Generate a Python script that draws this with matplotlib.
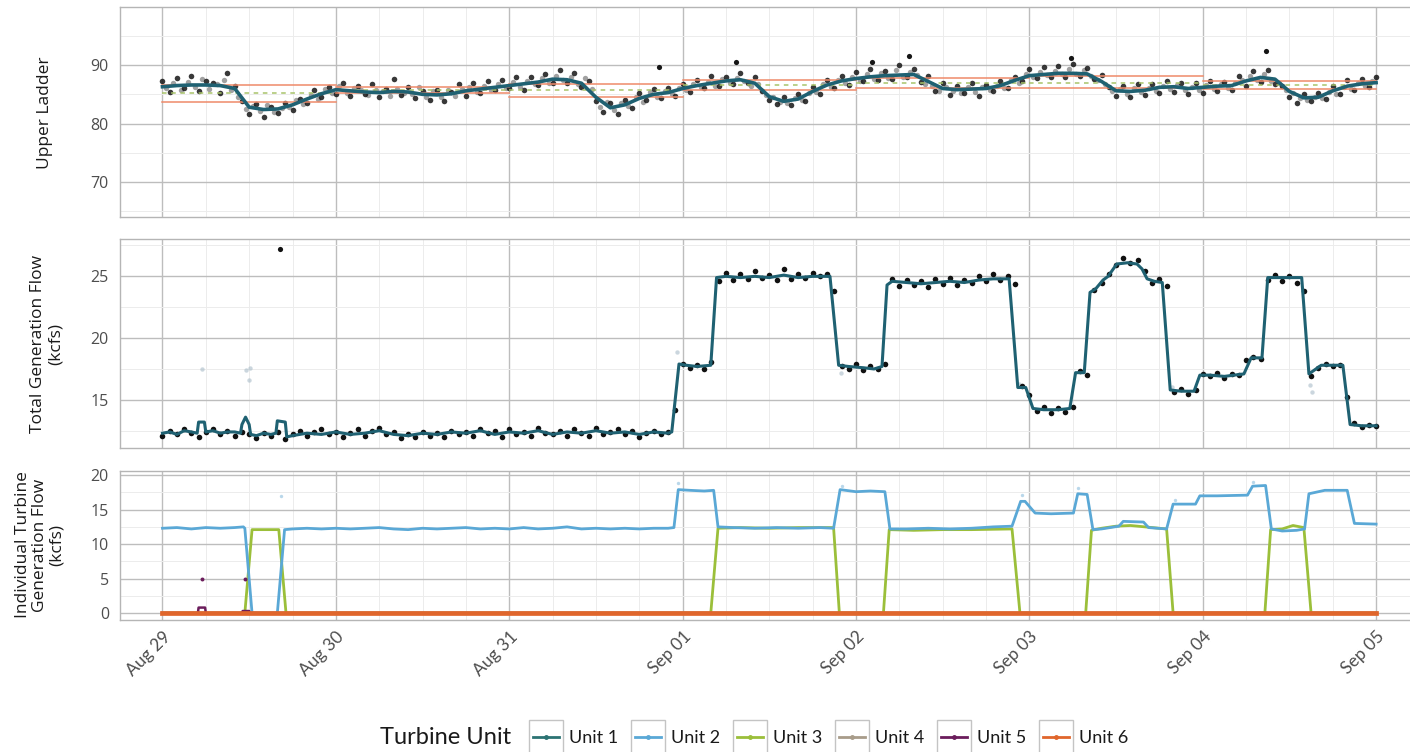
import matplotlib
matplotlib.use('Agg')
import matplotlib.pyplot as plt
import matplotlib.dates as mdates
from matplotlib.patches import Rectangle
import numpy as np
import datetime as dt

# ----- data (hours from Aug 29 00:00) -----
units = ['Unit 1', 'Unit 2', 'Unit 3', 'Unit 4', 'Unit 5', 'Unit 6']
unit_colors = ['#2c7373', '#5aa8d6', '#9bbf3a', '#a89c8a', '#6b1d5c', '#e0662c']

ladder_hours = list(range(0, 169, 2))
ladder_line = [86.3, 86.5, 86.6, 86.6, 86.5, 86.0, 82.8, 82.4, 82.5, 83.2, 84.2, 85.1, 85.8, 85.6, 85.4,
               85.3, 85.5, 85.4, 85.0, 84.9, 85.1, 85.6, 85.9, 86.2, 86.5, 86.8, 87.1, 87.6, 87.5, 86.9,
               84.5, 82.7, 83.2, 84.3, 85.0, 85.3, 86.0, 86.5, 86.9, 87.3, 87.5, 86.9, 84.6, 83.8, 84.2,
               85.5, 86.6, 87.3, 87.7, 88.0, 88.2, 88.3, 88.4, 87.2, 86.0, 85.8, 85.9, 86.0, 86.5, 87.4,
               88.2, 88.4, 88.6, 88.6, 88.5, 87.2, 85.6, 85.5, 85.7, 86.2, 86.3, 86.0, 86.2, 86.4, 86.5,
               87.3, 87.9, 87.6, 85.5, 84.4, 84.5, 85.6, 86.4, 86.8, 87.0]

# dark points, on the hour
ladder_pts_a = [87.2, 85.4, 87.8, 86.0, 88.1, 85.6, 87.3, 86.9, 85.2, 88.6, 86.4, 83.9, 81.6, 83.4, 81.2,
                82.9, 81.8, 83.6, 82.4, 84.2, 83.5, 85.7, 84.6, 86.3, 85.1, 86.9, 84.8, 86.4, 85.0, 86.8,
                84.6, 85.9, 87.6, 84.9, 86.2, 84.3, 85.6, 84.1, 85.8, 83.9, 85.4, 86.7, 84.8, 86.9, 85.3,
                87.2, 85.7, 87.4, 86.1, 87.9, 85.8, 88.0, 86.6, 88.4, 86.9, 89.1, 87.0, 88.6, 86.3, 87.2,
                83.8, 82.0, 83.5, 81.7, 84.1, 82.6, 85.2, 84.0, 85.9, 84.4, 86.1, 84.8, 86.7, 85.4, 87.4,
                86.0, 88.2, 86.5, 88.0, 86.8, 88.6, 87.0, 87.9, 85.6, 84.0, 83.4, 84.6, 83.1, 85.0, 83.9,
                86.2, 85.1, 87.4, 86.0, 88.1, 86.6, 88.9, 87.2, 89.3, 87.5, 89.0, 87.7, 90.1, 87.9, 89.4,
                87.1, 88.2, 85.6, 86.9, 84.9, 86.5, 85.2, 87.0, 84.8, 86.6, 85.5, 87.3, 86.1, 88.0, 87.2,
                89.4, 87.8, 89.7, 88.0, 89.9, 87.9, 90.2, 88.1, 89.5, 87.6, 88.3, 86.2, 84.8, 86.4, 84.6,
                86.7, 84.9, 86.8, 85.3, 87.2, 85.4, 87.0, 85.1, 86.9, 85.2, 87.3, 85.5, 87.1, 85.8, 88.2,
                86.5, 89.0, 87.1, 89.2, 86.8, 86.5, 84.6, 83.5, 85.0, 83.8, 85.3, 84.2, 86.5, 85.0, 87.4,
                85.8, 87.6, 86.2, 87.9]
# grey points, on the half hour
ladder_pts_b = [86.0, 86.9, 85.8, 87.1, 86.3, 87.6, 85.9, 86.8, 87.4, 85.7, 84.6, 82.5, 83.0, 82.2, 83.1,
                82.0, 82.7, 82.9, 84.0, 83.3, 84.9, 84.2, 85.9, 85.2, 86.4, 85.3, 86.1, 85.7, 84.9, 85.8,
                85.6, 84.7, 85.9, 85.2, 85.0, 86.3, 84.5, 85.5, 84.6, 85.7, 84.7, 85.9, 86.2, 85.4, 86.5,
                85.8, 86.8, 86.0, 87.1, 86.3, 87.3, 86.7, 87.8, 87.0, 88.2, 87.4, 88.0, 86.7, 87.8, 85.9,
                82.9, 83.7, 82.3, 83.6, 83.0, 84.5, 83.7, 85.4, 84.6, 85.6, 85.0, 86.0, 85.7, 86.8, 86.2,
                87.1, 86.5, 87.6, 87.0, 87.8, 87.2, 86.4, 86.8, 84.9, 84.5, 83.7, 83.6, 84.3, 84.0, 85.3,
                85.4, 86.7, 86.2, 87.5, 86.9, 87.9, 87.3, 88.4, 87.6, 88.7, 87.8, 89.1, 88.0, 88.9, 88.3,
                86.8, 86.5, 85.5, 86.2, 85.6, 85.2, 86.3, 85.4, 86.2, 85.8, 86.4, 86.1, 87.5, 86.9, 88.4,
                88.0, 88.9, 88.3, 89.0, 88.4, 89.3, 88.5, 89.1, 88.2, 87.4, 86.8, 85.5, 85.9, 85.1, 86.0,
                85.4, 86.1, 85.6, 86.4, 85.9, 86.6, 85.7, 86.3, 85.8, 86.6, 85.9, 86.8, 86.0, 87.0, 87.4,
                88.1, 87.5, 88.4, 87.3, 87.0, 85.7, 85.2, 84.3, 84.0, 84.6, 84.3, 85.4, 85.1, 86.2, 85.9,
                86.9, 86.4, 87.2]
ladder_out_h = [68.8, 79.4, 98.2, 103.3, 125.8, 152.7]
ladder_out_v = [89.7, 90.6, 90.6, 91.6, 91.2, 92.4]

# daily criteria lines
crit_days = [0, 1, 2, 3, 4, 5, 6]
crit_upper = [86.6, 86.3, 86.8, 87.4, 87.8, 88.1, 87.3]
crit_lower = [83.7, 85.2, 84.6, 85.8, 86.0, 86.0, 85.9]
crit_mid = [85.2, 85.8, 85.7, 86.6, 86.9, 87.0, 86.6]

total_hours = [0, 1, 2, 3, 4, 4.8, 5.0, 5.8, 6.0, 7, 8, 9, 10, 10.8, 11.0, 11.5, 12.0, 12.2, 13, 14, 15, 15.7,
               15.9, 17.0, 17.2, 18, 20, 22, 24, 26, 28, 30, 32, 34, 36, 38, 40, 42, 44, 46, 48, 50, 52, 54,
               56, 58, 60, 62, 64, 66, 68, 70, 70.5, 71.5, 72.5, 74, 75.9, 76.7, 78, 80, 82, 84, 86, 88, 90,
               92.4, 93.6, 95, 97, 98.5, 99.6, 100.3, 101, 103, 105, 107, 109, 111, 113, 115, 117.2, 118.4,
               119.5, 120.5, 122, 124, 125.6, 126.4, 127.6, 128.4, 129.2, 130.2, 130.9, 132.1, 133.6, 134.9,
               135.6, 136.3, 137.3, 138.4, 139.5, 141, 142.8, 143.6, 145, 147, 149.7, 150.7, 152.2, 153.0,
               155, 157.7, 158.7, 160.4, 162, 163.4, 164.4, 166, 168]
total_line = [12.3, 12.4, 12.2, 12.5, 12.4, 12.3, 13.2, 13.2, 12.4, 12.5, 12.3, 12.4, 12.4, 12.3, 13.0, 13.6,
              13.0, 12.2, 12.1, 12.3, 12.2, 12.3, 13.3, 13.2, 12.0, 12.1, 12.3, 12.2, 12.4, 12.2, 12.3, 12.5,
              12.2, 12.1, 12.3, 12.2, 12.4, 12.3, 12.5, 12.2, 12.4, 12.3, 12.5, 12.2, 12.4, 12.3, 12.5, 12.3,
              12.4, 12.2, 12.4, 12.3, 12.4, 17.9, 17.8, 17.7, 17.8, 24.9, 25.0, 24.9, 25.0, 24.9, 25.1, 24.9,
              25.0, 25.0, 17.8, 17.7, 17.6, 17.5, 17.7, 24.3, 24.6, 24.5, 24.4, 24.5, 24.6, 24.5, 24.7, 24.8,
              24.8, 16.0, 16.0, 14.3, 14.2, 14.2, 14.3, 17.2, 17.2, 23.7, 24.0, 24.7, 25.0, 26.0, 26.1, 26.0,
              25.6, 24.8, 24.6, 24.5, 15.8, 15.7, 15.7, 17.0, 17.0, 16.9, 17.1, 18.4, 18.4, 24.9, 24.9, 24.9,
              17.1, 17.8, 17.8, 17.8, 13.0, 12.9, 12.9]
total_pts = [12.1, 12.5, 12.2, 12.6, 12.3, 12.0, 12.4, 12.6, 12.2, 12.5, 12.1, 12.4, 12.2, 11.9, 12.3, 12.1,
             12.4, 11.8, 12.2, 12.5, 12.1, 12.4, 12.6, 12.2, 12.4, 12.0, 12.3, 12.6, 12.1, 12.5, 12.7, 12.2,
             12.4, 11.9, 12.2, 12.0, 12.4, 12.1, 12.3, 12.0, 12.5, 12.2, 12.4, 12.1, 12.6, 12.3, 12.5, 12.0,
             12.6, 12.2, 12.4, 12.1, 12.7, 12.3, 12.2, 12.5, 12.1, 12.6, 12.3, 12.1, 12.7, 12.2, 12.4, 12.6,
             12.2, 12.5, 12.0, 12.3, 12.5, 12.2, 12.4, 14.2, 17.9, 17.6, 17.8, 17.5, 18.1, 24.6, 25.3, 24.7,
             25.2, 24.8, 25.4, 24.9, 25.1, 24.7, 25.6, 24.8, 25.2, 24.9, 25.3, 25.0, 25.2, 23.8, 17.7, 17.5,
             17.9, 17.4, 17.7, 17.5, 17.9, 24.8, 24.2, 24.7, 24.3, 24.6, 24.1, 24.8, 24.4, 24.9, 24.3, 24.7,
             24.5, 25.0, 24.6, 25.2, 24.7, 25.0, 24.4, 16.1, 15.4, 14.1, 14.4, 13.9, 14.3, 14.0, 14.4, 17.3,
             17.0, 23.9, 24.5, 25.2, 25.9, 26.5, 26.1, 26.3, 25.4, 24.5, 24.8, 24.2, 15.6, 15.9, 15.5, 15.8,
             17.1, 16.9, 17.2, 16.8, 17.1, 17.0, 18.2, 18.5, 18.3, 24.7, 25.1, 24.6, 25.0, 24.5, 23.8, 16.9,
             17.6, 17.9, 17.7, 17.8, 15.2, 13.1, 12.8, 13.0, 12.9]
total_faint_h = [5.5, 11.6, 12.1, 12.0, 71.2, 71.0, 93.9, 118.6, 139.8, 158.9, 159.1]
total_faint_v = [17.5, 17.4, 17.6, 16.6, 18.9, 14.2, 17.2, 16.3, 16.0, 16.2, 15.6]
total_out_h = [16.3]
total_out_v = [27.2]

u2_hours = [0, 2, 4, 6, 8, 10, 11.2, 11.4, 12.4, 15.9, 16.9, 18, 20, 22, 24, 26, 28, 30, 32, 34, 36, 38, 40,
            42, 44, 46, 48, 50, 52, 54, 56, 58, 60, 62, 64, 66, 68, 70, 70.8, 71.4, 73, 75, 76.3, 76.9, 79,
            82, 85, 88, 91, 92.9, 93.8, 96, 98, 100, 100.7, 103, 106, 109, 112, 115, 117.6, 118.8, 119.4,
            120.8, 123, 126.1, 126.7, 128, 128.8, 130, 132.4, 133, 135.8, 136.5, 139, 139.9, 143, 143.6,
            146, 150.2, 150.9, 152.7, 153.5, 155, 157, 158.1, 158.7, 160.9, 164, 165, 168]
u2_flow = [12.3, 12.4, 12.2, 12.4, 12.3, 12.4, 12.5, 12.3, 0, 0, 12.1, 12.2, 12.3, 12.2, 12.3, 12.2, 12.3,
           12.4, 12.2, 12.1, 12.3, 12.2, 12.3, 12.4, 12.2, 12.3, 12.2, 12.4, 12.2, 12.3, 12.5, 12.2, 12.3,
           12.2, 12.3, 12.2, 12.3, 12.3, 12.4, 17.9, 17.8, 17.7, 17.8, 12.5, 12.4, 12.3, 12.4, 12.3, 12.4,
           12.3, 17.9, 17.6, 17.7, 17.6, 12.2, 12.2, 12.3, 12.2, 12.3, 12.5, 12.6, 16.2, 16.2, 14.5, 14.4,
           14.5, 17.3, 17.2, 12.1, 12.2, 12.6, 13.3, 13.2, 12.4, 12.2, 15.8, 15.8, 17.0, 17.0, 17.1, 18.4,
           18.5, 12.2, 11.9, 12.0, 12.2, 17.3, 17.8, 17.8, 13.0, 12.9]
u2_faint_h = [16.4, 71.3, 94.0, 119.0, 126.8, 140.1, 150.9]
u2_faint_v = [17.0, 18.8, 18.4, 17.1, 18.2, 16.4, 19.0]

u3_hours = [0, 11.4, 12.4, 16.1, 17.1, 75.9, 76.9, 80, 84, 88, 92.9, 93.7, 99.8, 100.6, 104, 108, 112, 117.6,
            118.7, 127.8, 128.6, 130, 132, 134, 136, 138, 139.0, 139.9, 152.6, 153.4, 155, 156.5, 158, 159,
            168]
u3_flow = [0, 0, 12.1, 12.1, 0, 0, 12.3, 12.4, 12.3, 12.4, 12.4, 0, 0, 12.1, 12.0, 12.1, 12.1, 12.2, 0, 0,
           12.0, 12.3, 12.6, 12.7, 12.5, 12.3, 12.2, 0, 0, 12.1, 12.2, 12.7, 12.4, 0, 0]

u5_hours = [0, 4.9, 5.0, 5.9, 6.0, 11.0, 11.1, 12.0, 12.1, 168]
u5_flow = [0, 0, 0.8, 0.8, 0, 0, 0.3, 0.3, 0, 0]
u5_pts_h = [5.5, 11.4]
u5_pts_v = [5.0, 5.0]

zero_hours = [0, 168]
zero_flow = [0, 0]

# ----- helpers -----
base = mdates.date2num(dt.datetime(2019, 8, 29))


def tx(hours):
    return base + np.asarray(hours, dtype=float) / 24.0


plt.rcParams['font.family'] = ['Open Sans', 'DejaVu Sans']

W, H = 1410, 752
fig = plt.figure(figsize=(W / 100, H / 100), dpi=100)


def add_panel(top, bottom):
    return fig.add_axes([120 / W, 1 - bottom / H, 1298 / W, (bottom - top) / H])


ax1 = add_panel(7.3, 217)
ax2 = add_panel(239.3, 448)
ax3 = add_panel(471, 620)

teal = '#1f6172'

# upper ladder
ax1.scatter(tx(np.arange(len(ladder_pts_b)) + 0.5), ladder_pts_b, s=15, color='#7a7a7a', alpha=0.7,
            linewidths=0, zorder=3)
ax1.scatter(tx(np.arange(len(ladder_pts_a))), ladder_pts_a, s=16, color='#151515', alpha=0.85,
            linewidths=0, zorder=3)
ax1.scatter(tx(ladder_out_h), ladder_out_v, s=14, color='#151515', linewidths=0, zorder=3)
for d, up, lo, mid in zip(crit_days, crit_upper, crit_lower, crit_mid):
    ax1.plot(tx([d * 24, d * 24 + 24]), [up, up], color='#ef8a6a', lw=1.1, zorder=4)
    ax1.plot(tx([d * 24, d * 24 + 24]), [lo, lo], color='#ef8a6a', lw=1.1, zorder=4)
    ax1.plot(tx([d * 24, d * 24 + 24]), [mid, mid], color='#a8c46a', lw=1.1, ls=(0, (3, 3)), zorder=4)
ax1.plot(tx(ladder_hours), ladder_line, color=teal, lw=2.6, zorder=5)
ax1.set_ylim(64.0, 99.9)
ax1.set_yticks([70, 80, 90])
ax1.set_yticks([65, 75, 85, 95], minor=True)

# total generation
ax2.scatter(tx(total_faint_h), total_faint_v, s=10, color='#a9bcc8', alpha=0.6, linewidths=0, zorder=3)
ax2.scatter(tx(np.arange(len(total_pts))), total_pts, s=16, color='#111111', linewidths=0, zorder=3)
ax2.scatter(tx(total_out_h), total_out_v, s=14, color='#111111', linewidths=0, zorder=3)
ax2.plot(tx(total_hours), total_line, color=teal, lw=2.2, zorder=4)
ax2.set_ylim(11.1, 28.0)
ax2.set_yticks([15, 20, 25])
ax2.set_yticks([12.5, 17.5, 22.5, 27.5], minor=True)

# individual turbines
ax3.plot(tx(zero_hours), zero_flow, color=unit_colors[0], lw=1.5, zorder=3)
ax3.plot(tx(zero_hours), zero_flow, color=unit_colors[3], lw=1.5, zorder=3)
ax3.scatter(tx(u2_faint_h), u2_faint_v, s=6, color='#b9d7ea', linewidths=0, zorder=3)
ax3.plot(tx(u3_hours), u3_flow, color=unit_colors[2], lw=2.0, zorder=4)
ax3.plot(tx(u2_hours), u2_flow, color=unit_colors[1], lw=2.0, zorder=5)
ax3.plot(tx(u5_hours), u5_flow, color=unit_colors[4], lw=1.8, zorder=6)
ax3.scatter(tx(u5_pts_h), u5_pts_v, s=8, color=unit_colors[4], linewidths=0, zorder=6)
ax3.plot(tx(zero_hours), zero_flow, color=unit_colors[5], lw=3.4, zorder=7)
ax3.set_ylim(-1.0, 20.6)
ax3.set_yticks([0, 5, 10, 15, 20])
ax3.set_yticks([2.5, 7.5, 12.5, 17.5], minor=True)

for ax in (ax1, ax2, ax3):
    ax.set_xlim(tx(-5.88), tx(173.8))
    ax.xaxis.set_major_locator(mdates.DayLocator())
    ax.xaxis.set_minor_locator(mdates.HourLocator(byhour=[6, 12, 18]))
    ax.xaxis.set_major_formatter(mdates.DateFormatter('%b %d'))
    ax.grid(True, which='major', color='#bdbdbd', lw=1.0)
    ax.grid(True, which='minor', color='#ececec', lw=0.7)
    ax.set_axisbelow(True)
    for s in ax.spines.values():
        s.set_color('#b5b5b5')
        s.set_linewidth(1.0)
    ax.tick_params(which='both', length=0)
    ax.tick_params(axis='y', labelsize=11.5, labelcolor='#4d4d4d', pad=8)
for ax in (ax1, ax2):
    ax.tick_params(axis='x', labelbottom=False)
ax3.tick_params(axis='x', labelsize=12.5, labelcolor='#4d4d4d', pad=6)
for lab in ax3.get_xticklabels():
    lab.set_rotation(45)
    lab.set_ha('right')
    lab.set_rotation_mode('anchor')
    lab.set_fontfamily(['Lato', 'DejaVu Sans'])

# y titles
fig.text(45 / W, 1 - 113 / H, 'Upper Ladder', rotation=90, ha='center', va='center', fontsize=12.5,
         color='#1a1a1a')
fig.text(47 / W, 1 - 344 / H, 'Total Generation Flow\n(kcfs)', rotation=90, ha='center', va='center',
         fontsize=12.5, color='#1a1a1a', multialignment='center', linespacing=1.1)
fig.text(40 / W, 1 - 545 / H, 'Individual Turbine\nGeneration Flow\n(kcfs)', rotation=90, ha='center',
         va='center', fontsize=12.5, color='#1a1a1a', multialignment='center', linespacing=1.1)

# legend drawn in pixel space
lg = fig.add_axes([0, 0, 1, 1])
lg.set_xlim(0, W)
lg.set_ylim(H, 0)
lg.axis('off')
lg.text(380, 738, 'Turbine Unit', fontsize=17, va='center', ha='left', color='#1a1a1a',
        family=['Lato', 'DejaVu Sans'])
for i, (name, col) in enumerate(zip(units, unit_colors)):
    bx = 529 + i * 102
    lg.add_patch(Rectangle((bx, 720), 34, 33, facecolor='white', edgecolor='#c4c4c4', lw=1))
    lg.plot([bx + 4, bx + 30], [737, 737], color=col, lw=2)
    lg.plot([bx + 17], [737], marker='o', ms=2.5, color=col)
    lg.text(bx + 40, 738, name, fontsize=13, va='center', ha='left', color='#1a1a1a',
            family=['Lato', 'DejaVu Sans'])

fig.savefig('out.png', dpi=100)
